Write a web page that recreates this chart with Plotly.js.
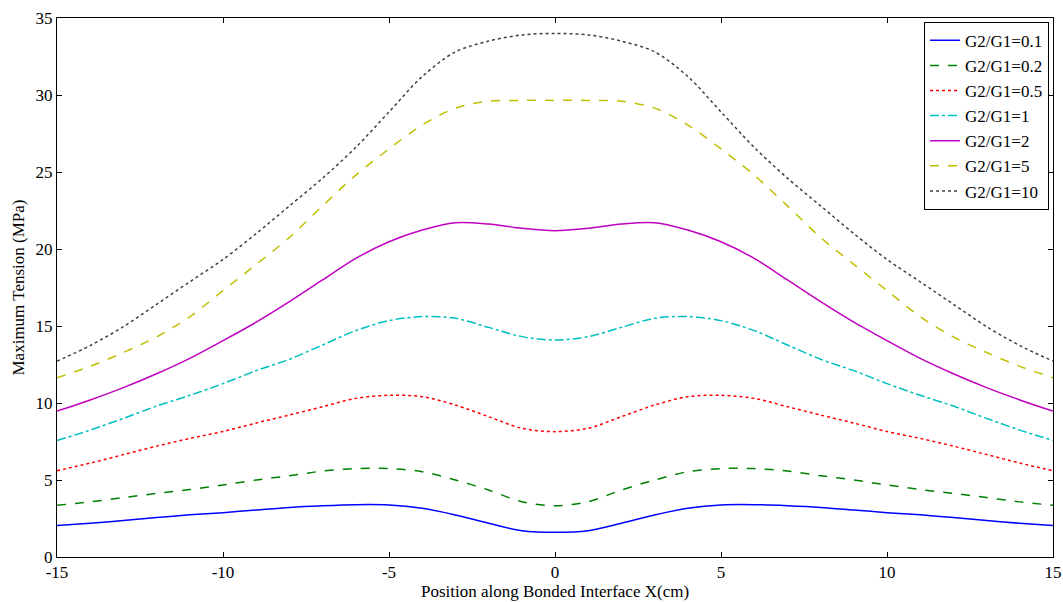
<!DOCTYPE html>
<html>
<head>
<meta charset="utf-8">
<script src="https://cdn.plot.ly/plotly-3.0.1.min.js"></script>
<style>html,body{margin:0;padding:0;background:#fff;}#chart{width:1063px;height:602px;}</style>
</head>
<body>
<div id="chart"></div>
<script>
const xPos = [-15,-14,-13,-12,-11,-10,-9,-8,-7,-6,-5,-4,-3,-2,-1,0,1,2,3,4,5,6,7,8,9,10,11,12,13,14,15];

const g01  = [2.04,2.19,2.37,2.56,2.74,2.88,3.05,3.22,3.33,3.40,3.38,3.16,2.73,2.19,1.71,1.60,1.71,2.19,2.73,3.16,3.38,3.40,3.33,3.22,3.05,2.88,2.74,2.56,2.37,2.19,2.04];
const g02  = [3.36,3.58,3.86,4.13,4.38,4.68,5.00,5.28,5.58,5.74,5.74,5.54,5.00,4.35,3.59,3.33,3.59,4.35,5.00,5.54,5.74,5.74,5.58,5.28,5.00,4.68,4.38,4.13,3.86,3.58,3.36];
const g05  = [5.60,6.10,6.65,7.20,7.70,8.15,8.70,9.22,9.76,10.30,10.50,10.41,9.87,9.11,8.36,8.14,8.36,9.11,9.87,10.41,10.50,10.30,9.76,9.22,8.70,8.15,7.70,7.20,6.65,6.10,5.60];
const g1   = [7.57,8.24,9.00,9.80,10.50,11.26,12.10,12.84,13.77,14.70,15.35,15.61,15.50,14.91,14.31,14.09,14.31,14.91,15.50,15.61,15.35,14.70,13.77,12.84,12.10,11.26,10.50,9.80,9.00,8.24,7.57];
const g2   = [9.47,10.20,11.00,11.90,12.90,14.05,15.25,16.58,17.99,19.39,20.47,21.23,21.71,21.62,21.34,21.19,21.34,21.62,21.71,21.23,20.47,19.39,17.99,16.58,15.25,14.05,12.90,11.90,11.00,10.20,9.47];
const g5   = [11.64,12.38,13.28,14.29,15.60,17.30,19.00,20.75,22.80,24.80,26.50,28.05,29.15,29.60,29.65,29.65,29.65,29.60,29.15,28.05,26.50,24.80,22.80,20.75,19.00,17.30,15.60,14.29,13.28,12.38,11.64];
const g10  = [12.72,13.73,14.96,16.41,17.87,19.32,21.00,22.80,24.60,26.60,28.90,31.20,32.80,33.50,33.90,34.00,33.90,33.50,32.80,31.20,28.90,26.60,24.60,22.80,21.00,19.32,17.87,16.41,14.96,13.73,12.72];

const seriesNames = ['G2/G1=0.1','G2/G1=0.2','G2/G1=0.5','G2/G1=1','G2/G1=2','G2/G1=5','G2/G1=10'];
const seriesData = [g01,g02,g05,g1,g2,g5,g10];
const colors = ['#0000ff','#008000','#ff0000','#00bfbf','#bf00bf','#bfbf00','#404040'];
const dashes = ['solid','dash','dot','dashdot','solid','dash','dot'];

const xTicks = [-15,-10,-5,0,5,10,15];
const yTicks = [0,5,10,15,20,25,30,35];

const traces = seriesData.map((d,i)=>({
  x: xPos, y: d, type:'scatter', mode:'lines', name: seriesNames[i],
  line:{color:colors[i], dash:dashes[i], width:1.5, shape:'spline', smoothing:0.9}
}));

const fam = '"Liberation Serif","Times New Roman",serif';
const font = {family:fam, size:17, color:'#000'};

const layout = {
  width:1063, height:602,
  margin:{l:57, r:10, t:18, b:45},
  paper_bgcolor:'#fff', plot_bgcolor:'#fff',
  font: font,
  showlegend:true,
  legend:{x:0.996, xanchor:'right', y:0.993, yanchor:'top', bgcolor:'#fff', bordercolor:'#000', borderwidth:1,
    font:{family:fam, size:17, color:'#000'}, tracegroupgap:0, itemwidth:30},
  xaxis:{range:[-15,15], tickvals:xTicks, ticktext:xTicks.map(String), ticks:'inside', ticklen:5, tickcolor:'#000',
    showline:true, linecolor:'#000', linewidth:1, mirror:'ticks', showgrid:false, zeroline:false,
    title:{text:'Position along Bonded Interface X(cm)', font:{family:fam,size:17,color:'#000'}, standoff:2},
    tickfont:{family:fam,size:17,color:'#000'}},
  yaxis:{range:[0,35], tickvals:yTicks, ticktext:yTicks.map(String), ticks:'inside', ticklen:5, tickcolor:'#000',
    showline:true, linecolor:'#000', linewidth:1, mirror:'ticks', showgrid:false, zeroline:false,
    title:{text:'Maximum Tension (MPa)', font:{family:fam,size:17,color:'#000'}, standoff:6},
    tickfont:{family:fam,size:17,color:'#000'}}
};

Plotly.newPlot('chart', traces, layout, {displayModeBar:false, staticPlot:true});
</script>
</body>
</html>
